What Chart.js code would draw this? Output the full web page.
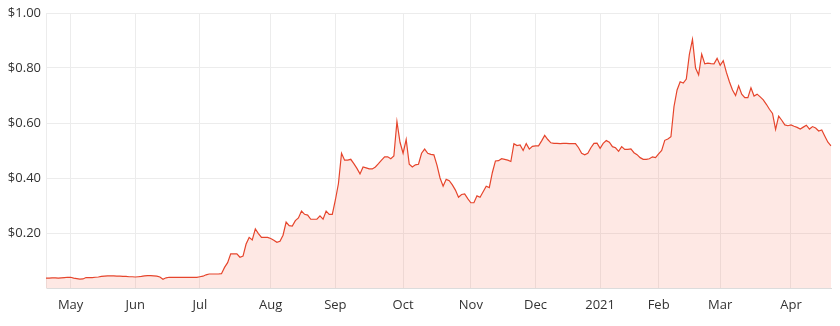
<!DOCTYPE html>
<html>
<head>
<meta charset="utf-8">
<script src="https://cdn.jsdelivr.net/npm/chart.js@4"></script>
<style>
  html, body { margin: 0; padding: 0; background: #fff; }
</style>
</head>
<body>
<canvas id="priceChart" width="840" height="326"></canvas>
<script>
// month tick labels ('' = partial month at the start, no tick)
const monthNames = ['', 'May', 'Jun', 'Jul', 'Aug', 'Sep', 'Oct', 'Nov', 'Dec', '2021', 'Feb', 'Mar', 'Apr'];

// daily closes, one array per month (trading days)
const apr20 = [0.036, 0.036, 0.037, 0.037, 0.036, 0.037, 0.038, 0.039];
const may20 = [0.039, 0.036, 0.034, 0.032, 0.033, 0.038, 0.038, 0.038, 0.039, 0.040, 0.042,
  0.043, 0.044, 0.044, 0.044, 0.043, 0.043, 0.042, 0.042, 0.041, 0.041];
const jun20 = [0.040, 0.041, 0.042, 0.044, 0.045, 0.045, 0.044, 0.043, 0.040, 0.032, 0.037,
  0.039, 0.039, 0.039, 0.039, 0.039, 0.039, 0.039, 0.039, 0.039, 0.039];
const jul20 = [0.041, 0.043, 0.048, 0.051, 0.051, 0.051, 0.051, 0.052, 0.075, 0.092, 0.124, 0.124,
  0.124, 0.112, 0.116, 0.160, 0.184, 0.175, 0.215, 0.198, 0.184, 0.184, 0.184];
const aug20 = [0.180, 0.174, 0.166, 0.170, 0.192, 0.240, 0.227, 0.225, 0.245, 0.255, 0.280,
  0.268, 0.265, 0.250, 0.250, 0.250, 0.262, 0.250, 0.280, 0.268, 0.268];
const sep20 = [0.320, 0.380, 0.490, 0.465, 0.465, 0.468, 0.452, 0.435, 0.415, 0.440, 0.437,
  0.433, 0.433, 0.440, 0.452, 0.465, 0.477, 0.477, 0.470, 0.480, 0.605, 0.530];
const oct20 = [0.490, 0.540, 0.450, 0.440, 0.448, 0.450, 0.490, 0.505, 0.490, 0.486, 0.484,
  0.447, 0.400, 0.370, 0.395, 0.390, 0.375, 0.356, 0.330, 0.340, 0.342, 0.325];
const nov20 = [0.310, 0.310, 0.335, 0.330, 0.350, 0.370, 0.365, 0.420, 0.462, 0.463, 0.470,
  0.468, 0.465, 0.460, 0.525, 0.518, 0.520, 0.500, 0.525, 0.505, 0.515];
const dec20 = [0.517, 0.517, 0.535, 0.555, 0.540, 0.528, 0.526, 0.526, 0.525, 0.526, 0.526,
  0.525, 0.525, 0.525, 0.510, 0.490, 0.484, 0.490, 0.510, 0.526, 0.527];
const jan21 = [0.508, 0.526, 0.536, 0.530, 0.514, 0.510, 0.497, 0.514, 0.504, 0.504, 0.506,
  0.492, 0.485, 0.474, 0.468, 0.468, 0.470, 0.477, 0.474];
const feb21 = [0.488, 0.500, 0.537, 0.542, 0.550, 0.660, 0.720, 0.750, 0.745, 0.760, 0.850,
  0.904, 0.800, 0.775, 0.850, 0.815, 0.818, 0.816, 0.815, 0.835];
const mar21 = [0.810, 0.827, 0.785, 0.750, 0.720, 0.700, 0.735, 0.705, 0.692, 0.692, 0.728,
  0.698, 0.705, 0.695, 0.684, 0.668, 0.650, 0.635, 0.577, 0.625, 0.610, 0.593, 0.590];
const apr21 = [0.593, 0.588, 0.584, 0.578, 0.585, 0.592, 0.578, 0.587, 0.582, 0.571, 0.575,
  0.552, 0.530, 0.517];

const yTicks = [0, 0.2, 0.4, 0.6, 0.8, 1.0];

const months = [apr20, may20, jun20, jul20, aug20, sep20, oct20, nov20, dec20, jan21, feb21, mar21, apr21];

// one label per trading day: month name on the first day, blank otherwise
const labels = [];
const prices = [];
months.forEach((m, mi) => {
  m.forEach((v, di) => {
    labels.push(di === 0 ? monthNames[mi] : '');
    prices.push(v);
  });
});

const FONT = '"Open Sans", "Noto Sans", sans-serif';
const TEXT = '#333';

new Chart(document.getElementById('priceChart'), {
  type: 'line',
  data: {
    labels,
    datasets: [{
      data: prices,
      borderColor: '#e6452c',
      borderWidth: 1.2,
      backgroundColor: 'rgba(246, 110, 90, 0.16)',
      fill: 'origin',
      pointRadius: 0,
      tension: 0
    }]
  },
  options: {
    responsive: false,
    animation: false,
    devicePixelRatio: 1,
    layout: { padding: { top: 13, right: 9, left: 0, bottom: 0 } },
    plugins: { legend: { display: false }, tooltip: { enabled: false } },
    scales: {
      x: {
        grid: { color: '#ececec', drawTicks: false },
        border: { color: '#dcdcdc' },
        ticks: {
          autoSkip: false,
          maxRotation: 0,
          padding: 9,
          color: TEXT,
          font: { family: FONT, size: 13 },
          callback: function (val, i) {
            const l = labels[i];
            return l ? l : null;
          }
        },
        afterFit: s => { s.height = 38; }
      },
      y: {
        min: yTicks[0],
        max: yTicks[yTicks.length - 1],
        grid: { color: '#ececec', drawTicks: false },
        border: { color: '#ececec' },
        afterBuildTicks: s => { s.ticks = yTicks.map(v => ({ value: v })); },
        ticks: {
          padding: 5,
          color: TEXT,
          font: { family: FONT, size: 13 },
          callback: v => v === 0 ? '' : '$' + v.toFixed(2)
        },
        afterFit: s => { s.width = 46; }
      }
    }
  }
});
</script>
</body>
</html>
